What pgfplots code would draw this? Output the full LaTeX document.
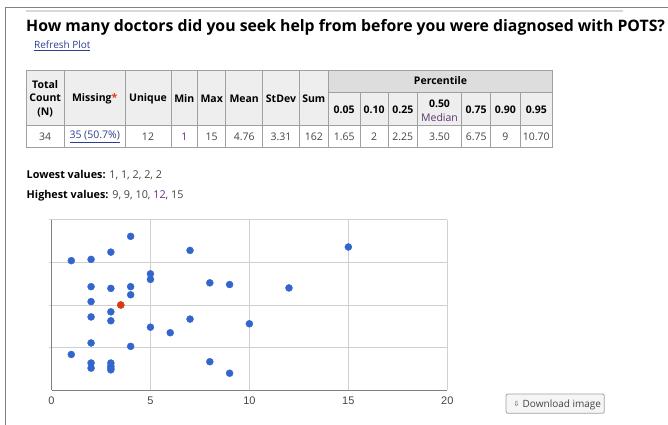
\documentclass[border=0pt]{standalone}
\usepackage{fontspec}
\setmainfont{Open Sans}
\newfontfamily\arialfont{Liberation Sans}
\newfontfamily\symfont{DejaVu Sans}
\usepackage{pgfplots}
\pgfplotsset{compat=1.18}
\definecolor{gblue}{HTML}{3366CC}
\definecolor{gred}{HTML}{DC3912}
\definecolor{gridgray}{HTML}{D0D0D0}
\definecolor{axgray}{HTML}{808080}
\definecolor{tbline}{HTML}{A0A0A0}
\definecolor{hdrbg}{HTML}{EEEEEE}
\definecolor{pctbg}{HTML}{DDDDDD}
\definecolor{linkblue}{HTML}{2F3F8F}
\definecolor{txtgray}{HTML}{444444}
\definecolor{visited}{HTML}{6A2C8A}
\newcommand{\hd}{\fontsize{10.5bp}{13.3bp}\selectfont\bfseries}
\newcommand{\dt}{\fontsize{10.5bp}{13.3bp}\selectfont}
\newcommand{\lt}{\fontsize{10.8bp}{13.3bp}\selectfont}
\begin{document}
\begin{tikzpicture}
\useasboundingbox (0,0) rectangle (668bp,425bp);
\begin{axis}[
  at={(51.5bp,34.7bp)}, anchor=south west,
  scale only axis, width=395.8bp, height=170.6bp,
  xmin=0, xmax=20, ymin=0, ymax=4,
  xtick={0,5,10,15,20}, ytick={1,2,3,4}, yticklabels={},
  grid=major, major grid style={color=gridgray, line width=0.8bp},
  axis x line*=bottom, axis y line*=left,
  axis line style={color=axgray, line width=1bp, -},
  xtick style={draw=none},
  ytick style={color=gridgray, line width=0.8bp},
  major tick length=3bp, tick align=outside,
  /pgf/number format/assume math mode=true,
  xticklabel style={font=\arialfont\fontsize{11bp}{13bp}\selectfont, text=txtgray, yshift=0bp},
  clip=false,
]
\addplot[only marks, mark=*, mark size=3.5bp, color=gblue] coordinates {
(4,3.61) (3,3.24) (1,3.04) (2,3.07) (7,3.28) (5,2.73) (5,2.60)
(2,2.43) (3,2.39) (4,2.43) (4,2.24) (8,2.52) (9,2.48) (2,2.08)
(3,1.84) (3,1.63) (2,1.72) (7,1.67) (5,1.48) (6,1.35) (10,1.56)
(2,1.11) (4,1.03) (1,0.84) (2,0.64) (2,0.52) (3,0.64) (3,0.57)
(3,0.48) (3,0.52) (8,0.67) (9,0.40) (15,3.36) (12,2.40)
};
\addplot[only marks, mark=*, mark size=3.6bp, color=gred] coordinates {(3.5,2.0)};
\end{axis}
\begin{scope}[shift={(0bp,425bp)}, x=1bp, y=-1bp]
% page frame
\draw[color=axgray, line width=1.4bp] (5.7,425) -- (5.7,7.3) -- (668,7.3);
\draw[color=hdrbg!80!gray, line width=1.8bp] (26,11) -- (622.7,11);
% title
\node[anchor=base west, inner sep=0pt, font=\fontsize{15.8bp}{18bp}\selectfont\bfseries] at (26,32) {How many doctors did you seek help from before you were diagnosed with POTS?};
\node[anchor=base west, inner sep=0pt, font=\fontsize{10bp}{12bp}\selectfont, text=linkblue] at (34,48.5) {\underline{Refresh Plot}};
% table backgrounds
\fill[hdrbg] (26,70.5) rectangle (552.7,125.7);
\fill[pctbg] (328.3,70.5) rectangle (552.7,92);
% table lines
\begin{scope}[color=tbline, line width=0.9bp]
\draw (26,70.5) rectangle (552.7,147.3);
\draw (26,125.7) -- (552.7,125.7);
\draw (328.3,92) -- (552.7,92);
\foreach \xx in {64.3,125,171,197.7,225.7,262.7,299.3,328.3} {\draw (\xx,70.5) -- (\xx,147.3);}
\foreach \xx in {360,388.3,417.3,461.7,490.7,520} {\draw (\xx,92) -- (\xx,147.3);}
\end{scope}
% header text
\node[font=\hd, align=center, inner sep=0pt] at (45.2,98.7) {Total\\Count\\(N)};
\node[font=\hd, inner sep=0pt] at (94.7,98.5) {Missing\textcolor{gred}{*}};
\node[font=\hd, inner sep=0pt] at (148,98.5) {Unique};
\node[font=\hd, inner sep=0pt] at (184.3,98.5) {Min};
\node[font=\hd, inner sep=0pt] at (211.7,98.5) {Max};
\node[font=\hd, inner sep=0pt] at (244.2,98.5) {Mean};
\node[font=\hd, inner sep=0pt] at (281,98.5) {StDev};
\node[font=\hd, inner sep=0pt] at (313.8,98.5) {Sum};
\node[font=\hd, inner sep=0pt] at (440.5,81) {Percentile};
\node[font=\hd, inner sep=0pt] at (344.2,109.3) {0.05};
\node[font=\hd, inner sep=0pt] at (374.2,109.3) {0.10};
\node[font=\hd, inner sep=0pt] at (402.8,109.3) {0.25};
\node[font=\hd, inner sep=0pt] at (439.5,103.3) {0.50};
\node[font=\dt, inner sep=0pt, text=visited!60!txtgray] at (439.5,117.3) {Median};
\node[font=\hd, inner sep=0pt] at (476.2,109.3) {0.75};
\node[font=\hd, inner sep=0pt] at (505.3,109.3) {0.90};
\node[font=\hd, inner sep=0pt] at (536.3,109.3) {0.95};
% data row
\begin{scope}[every node/.style={font=\dt, text=txtgray, inner sep=0pt}]
\node at (45.2,137) {34};
\node[text=linkblue] at (94.7,137) {\underline{35 (50.7\%)}};
\node at (148,137) {12};
\node[text=visited] at (184.3,137) {1};
\node at (211.7,137) {15};
\node at (244.2,137) {4.76};
\node at (281,137) {3.31};
\node at (313.8,137) {162};
\node at (344.2,137) {1.65};
\node at (374.2,137) {2};
\node at (402.8,137) {2.25};
\node at (439.5,137) {3.50};
\node at (476.2,137) {6.75};
\node at (505.3,137) {9};
\node at (536.3,137) {10.70};
\end{scope}
% lowest / highest
\node[anchor=base west, inner sep=0pt, font=\lt] at (26.5,179) {\textbf{Lowest values:} \textcolor{txtgray}{1, 1, 2, 2, 2}};
\node[anchor=base west, inner sep=0pt, font=\lt] at (26.5,199) {\textbf{Highest values:} \textcolor{txtgray}{9, 9, 10, \textcolor{visited}{12}, 15}};
% download button
\draw[rounded corners=2bp, fill=hdrbg!60!white, draw=tbline, line width=0.8bp] (506,394) rectangle (604.3,413.3);
\node[anchor=west, inner sep=0pt, font=\symfont\fontsize{7bp}{8bp}\selectfont, text=txtgray] at (513.5,404.5) {⇩};
\node[anchor=west, inner sep=0pt, font=\fontsize{10bp}{12bp}\selectfont, text=txtgray] at (522.5,404.5) {Download image};
\end{scope}
\end{tikzpicture}
\end{document}
